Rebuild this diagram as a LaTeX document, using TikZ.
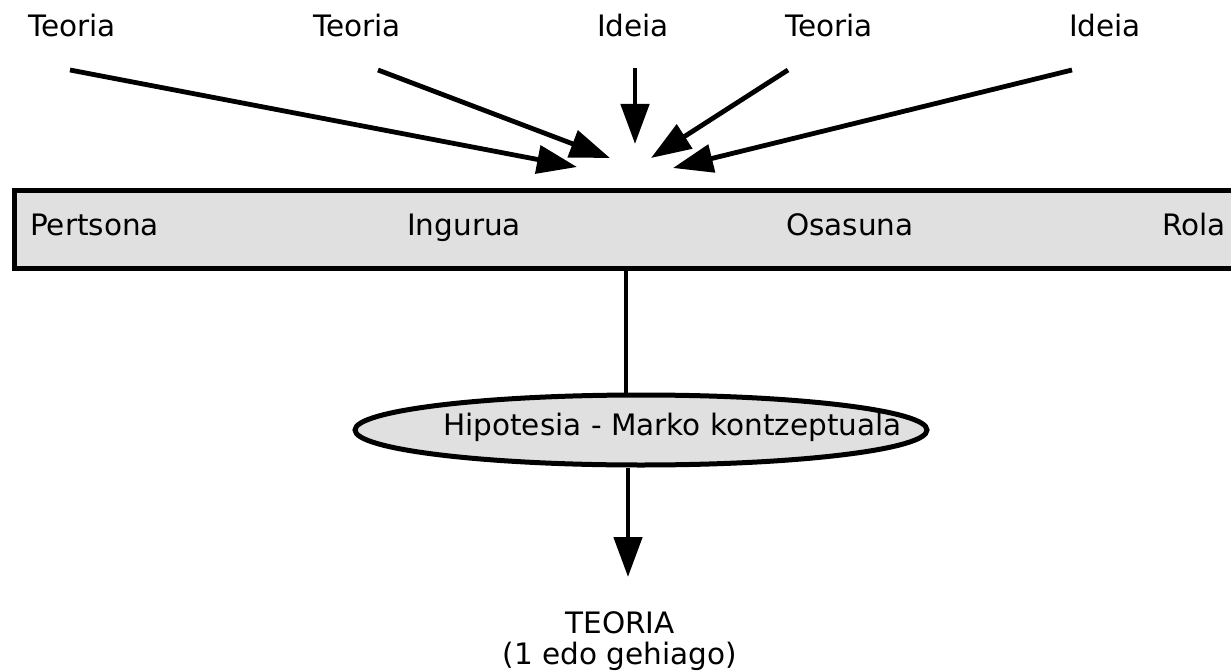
\documentclass[tikz,border=0pt]{standalone}
\usepackage{fontspec}
\setmainfont{DejaVu Sans}
\usetikzlibrary{arrows.meta,shapes.geometric}
\begin{document}
\begin{tikzpicture}[x=1pt,y=-1pt,
  lbl/.style={inner sep=0pt,anchor=base west,font=\fontsize{29.5}{31}\selectfont},
  arr/.style={line width=4.8pt,-{Triangle[length=40pt,width=28pt]}},
  ln/.style={line width=4.8pt}]
\useasboundingbox (0,0) rectangle (1231,671);
\begin{scope}
\clip (0,0) rectangle (1231,671);
\node[draw,line width=5pt,fill=black!12,minimum width=1240pt,minimum height=78pt,anchor=north west,inner sep=0pt] (bar) at (12,188) {};
\end{scope}
% top labels
\node[lbl] (t1) at (28,37) {Teoria};
\node[lbl] (t2) at (313,37) {Teoria};
\node[lbl] (i1) at (597,37) {Ideia};
\node[lbl] (t3) at (785,37) {Teoria};
\node[lbl] (i2) at (1069,37) {Ideia};
% bar labels
\node[lbl] (p) at (30,236) {Pertsona};
\node[lbl] (ing) at (407,236) {Ingurua};
\node[lbl] (osa) at (786,236) {Osasuna};
\node[lbl,anchor=base east] (rola) at (1226,236) {Rola};
% arrow start/end coordinates
\coordinate (s1) at (70,70);   \coordinate (e1) at (577,167);
\coordinate (s2) at (378,70);  \coordinate (e2) at (610,158);
\coordinate (s3) at (635,68);  \coordinate (e3) at (635,144);
\coordinate (s4) at (788,70);  \coordinate (e4) at (651,158);
\coordinate (s5) at (1072,70); \coordinate (e5) at (673,168);
\draw[arr] (s1) -- (e1);
\draw[arr] (s2) -- (e2);
\draw[arr] (s3) -- (e3);
\draw[arr] (s4) -- (e4);
\draw[arr] (s5) -- (e5);
% ellipse
\node[draw,ellipse,line width=5pt,fill=black!12,minimum width=572pt,minimum height=70pt,inner sep=0pt] (hip) at (641,430) {};
\node[lbl] (hipt) at (443,435) {Hipotesia - Marko kontzeptuala};
\draw[ln] (bar.south -| 626,0) -- (hip.north -| 626,0);
\coordinate (tip) at (628,577);
\draw[arr] (hip.south -| 628,0) -- (tip);
\node[lbl,anchor=base,align=center] (teo) at (620,664) {TEORIA\\(1 edo gehiago)};
\end{tikzpicture}
\end{document}
